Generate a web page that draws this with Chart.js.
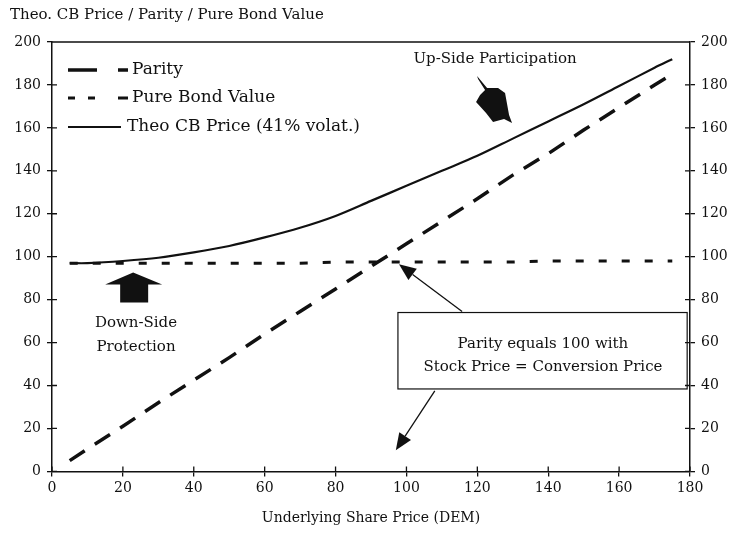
<!DOCTYPE html>
<html>
<head>
<meta charset="utf-8">
<script src="https://cdn.jsdelivr.net/npm/chart.js@4.4.0/dist/chart.umd.min.js"></script>
<style>
  html, body { margin: 0; padding: 0; background: #fff; }
</style>
</head>
<body>
<canvas id="cbchart" width="731" height="535"></canvas>
<script>
// values
var sharePrice = [5, 10, 20, 30, 40, 50, 60, 70, 80, 90, 100, 110, 120, 130, 140, 150, 160, 170, 175];
var parity = [5, 10.5, 21, 32, 42.5, 53, 64, 74.5, 85, 95.5, 106, 116.5, 127, 138, 148, 159, 169.5, 180, 185];
var bondValue = [97, 97, 97, 97, 97, 97, 97, 97, 97.5, 97.5, 97.5, 97.5, 97.5, 97.5, 98, 98, 98, 98, 98];
var cbPrice = [97, 97, 98, 99.5, 102, 105, 109, 113.5, 119, 126, 133, 140, 147, 155, 163, 171, 179.5, 188, 192];
var seriesNames = ["Parity", "Pure Bond Value", "Theo CB Price (41% volat.)"];

var INK = "#111";
var SERIF = "'DejaVu Serif', serif";

function points(ys) {
  return sharePrice.map(function (x, i) { return { x: x, y: ys[i] }; });
}

// crossing ticks + top frame line
var framePlugin = {
  id: "frame",
  afterDraw: function (chart) {
    var ctx = chart.ctx;
    var a = chart.chartArea;
    ctx.save();
    ctx.strokeStyle = INK;
    ctx.lineWidth = 1.3;
    ctx.beginPath();
    ctx.moveTo(a.left, a.top);
    ctx.lineTo(a.right, a.top);
    chart.scales.x.ticks.forEach(function (t) {
      var px = chart.scales.x.getPixelForValue(t.value);
      ctx.moveTo(px, a.bottom);
      ctx.lineTo(px, a.bottom - 5);
    });
    chart.scales.y.ticks.forEach(function (t) {
      var py = chart.scales.y.getPixelForValue(t.value);
      ctx.moveTo(a.left, py);
      ctx.lineTo(a.left + 5, py);
      ctx.moveTo(a.right, py);
      ctx.lineTo(a.right - 5, py);
    });
    ctx.stroke();
    ctx.restore();
  }
};

// legend drawn inside the plot, top left
var legendPlugin = {
  id: "innerLegend",
  afterDraw: function (chart) {
    var ctx = chart.ctx;
    var a = chart.chartArea;
    var rows = [
      { y: a.top + 28, dash: [29, 21, 10, 200], w: 3.5, len: 60, tx: 80 },
      { y: a.top + 56, dash: [7, 13, 7, 23, 10, 200], w: 3, len: 60, tx: 80 },
      { y: a.top + 85, dash: [], w: 2, len: 53, tx: 75 }
    ];
    ctx.save();
    ctx.strokeStyle = INK;
    ctx.fillStyle = INK;
    ctx.font = "17px " + SERIF;
    ctx.textBaseline = "middle";
    rows.forEach(function (r, i) {
      ctx.beginPath();
      ctx.lineWidth = r.w;
      ctx.setLineDash(r.dash);
      ctx.moveTo(a.left + 16, r.y);
      ctx.lineTo(a.left + 16 + r.len, r.y);
      ctx.stroke();
      ctx.fillText(seriesNames[i], a.left + r.tx, r.y);
    });
    ctx.restore();
  }
};

function arrowLine(ctx, x1, y1, x2, y2) {
  var ang = Math.atan2(y2 - y1, x2 - x1);
  var hl = 17, hw = 7;
  var bx = x2 - hl * Math.cos(ang), by = y2 - hl * Math.sin(ang);
  ctx.beginPath();
  ctx.moveTo(x1, y1);
  ctx.lineTo(bx, by);
  ctx.stroke();
  ctx.beginPath();
  ctx.moveTo(x2, y2);
  ctx.lineTo(bx + hw * Math.sin(ang), by - hw * Math.cos(ang));
  ctx.lineTo(bx - hw * Math.sin(ang), by + hw * Math.cos(ang));
  ctx.closePath();
  ctx.fill();
}

// text, box and arrows anchored to data coordinates
var notesPlugin = {
  id: "notes",
  afterDatasetsDraw: function (chart) {
    var ctx = chart.ctx;
    var sx = chart.scales.x, sy = chart.scales.y;
    function P(x, y) { return [sx.getPixelForValue(x), sy.getPixelForValue(y)]; }
    ctx.save();
    ctx.fillStyle = INK;
    ctx.strokeStyle = INK;
    ctx.textAlign = "center";
    ctx.textBaseline = "middle";

    // up-side participation
    ctx.font = "15px " + SERIF;
    var t = P(125, 192);
    ctx.fillText("Up-Side Participation", t[0], t[1]);
    var u = P(125, 173);
    var blob = [[-18, -24], [-8, -12], [3, -12], [10, -7], [12, 4], [14, 15], [17, 23], [9, 19], [-2, 22],
      [-9, 13], [-19, 2], [-15, -5], [-10, -10], [-17, -21]];
    ctx.beginPath();
    blob.forEach(function (p, i) {
      if (i === 0) ctx.moveTo(u[0] + p[0], u[1] + p[1]);
      else ctx.lineTo(u[0] + p[0], u[1] + p[1]);
    });
    ctx.closePath();
    ctx.fill();

    // down-side protection
    var d = P(22.9, 86.6);
    ctx.beginPath();
    ctx.moveTo(d[0], d[1] - 13);
    ctx.lineTo(d[0] + 29, d[1] - 1);
    ctx.lineTo(d[0] + 15, d[1] - 1);
    ctx.lineTo(d[0] + 15, d[1] + 17);
    ctx.lineTo(d[0] - 13, d[1] + 17);
    ctx.lineTo(d[0] - 13, d[1] - 1);
    ctx.lineTo(d[0] - 28, d[1] - 1);
    ctx.closePath();
    ctx.fill();
    ctx.font = "15px " + SERIF;
    var d1 = P(23.7, 69.3), d2 = P(23.7, 58);
    ctx.fillText("Down-Side", d1[0], d1[1]);
    ctx.fillText("Protection", d2[0], d2[1]);

    // parity box
    var b1 = P(97.6, 74), b2 = P(179.2, 38.4);
    ctx.fillStyle = "#fff";
    ctx.fillRect(b1[0], b1[1], b2[0] - b1[0], b2[1] - b1[1]);
    ctx.fillStyle = INK;
    ctx.lineWidth = 1.2;
    ctx.strokeRect(b1[0], b1[1], b2[0] - b1[0], b2[1] - b1[1]);
    ctx.font = "15px " + SERIF;
    var l1 = P(138.5, 59.5), l2 = P(138.5, 48.7);
    ctx.fillText("Parity equals 100 with", l1[0], l1[1]);
    ctx.fillText("Stock Price = Conversion Price", l2[0], l2[1]);

    ctx.lineWidth = 1.3;
    var a1 = P(115.7, 74.5), a1t = P(97.9, 96.5);
    arrowLine(ctx, a1[0], a1[1], a1t[0], a1t[1]);
    var a2 = P(108, 37.5), a2t = P(97, 9.8);
    arrowLine(ctx, a2[0], a2[1], a2t[0], a2t[1]);
    ctx.restore();
  }
};

var tickFont = { family: SERIF, size: 14 };

var ctx = document.getElementById("cbchart").getContext("2d");
var myChart = new Chart(ctx, {
  type: "line",
  data: {
    datasets: [
      {
        label: seriesNames[0],
        data: points(parity),
        borderColor: INK,
        borderWidth: 3.5,
        borderDash: [18, 12],
        pointRadius: 0,
        fill: false
      },
      {
        label: seriesNames[1],
        data: points(bondValue),
        borderColor: INK,
        borderWidth: 3,
        borderDash: [8, 15],
        pointRadius: 0,
        fill: false
      },
      {
        label: seriesNames[2],
        data: points(cbPrice),
        borderColor: INK,
        borderWidth: 2.2,
        pointRadius: 0,
        tension: 0.3,
        fill: false
      }
    ]
  },
  options: {
    responsive: false,
    animation: false,
    devicePixelRatio: 1,
    layout: { padding: { left: 10, right: 0, top: 0, bottom: 8 } },
    plugins: {
      legend: { display: false },
      tooltip: { enabled: false },
      title: {
        display: true,
        text: "Theo. CB Price / Parity / Pure Bond Value",
        align: "start",
        color: INK,
        font: { family: SERIF, size: 15, weight: "normal" },
        padding: { top: 6, bottom: 18 }
      }
    },
    scales: {
      x: {
        type: "linear",
        min: 0,
        max: 180,
        ticks: { stepSize: 20, color: INK, font: tickFont, padding: 4 },
        grid: { drawOnChartArea: false, tickLength: 5, color: INK, lineWidth: 1.3 },
        border: { color: INK, width: 1.5 },
        title: {
          display: true,
          text: "Underlying Share Price (DEM)",
          color: INK,
          font: { family: SERIF, size: 14 },
          padding: { top: 9, bottom: 0 }
        }
      },
      y: {
        position: "left",
        min: 0,
        max: 200,
        ticks: { stepSize: 20, color: INK, font: tickFont, padding: 6 },
        grid: { drawOnChartArea: false, tickLength: 5, color: INK, lineWidth: 1.3 },
        border: { color: INK, width: 1.5 },
        afterFit: function (s) { s.width = 42; }
      },
      y2: {
        position: "right",
        min: 0,
        max: 200,
        ticks: { stepSize: 20, color: INK, font: tickFont, padding: 6 },
        grid: { drawOnChartArea: false, tickLength: 5, color: INK, lineWidth: 1.3 },
        border: { color: INK, width: 1.5 },
        afterFit: function (s) { s.width = 41; }
      }
    }
  },
  plugins: [framePlugin, legendPlugin, notesPlugin]
});
</script>
</body>
</html>
